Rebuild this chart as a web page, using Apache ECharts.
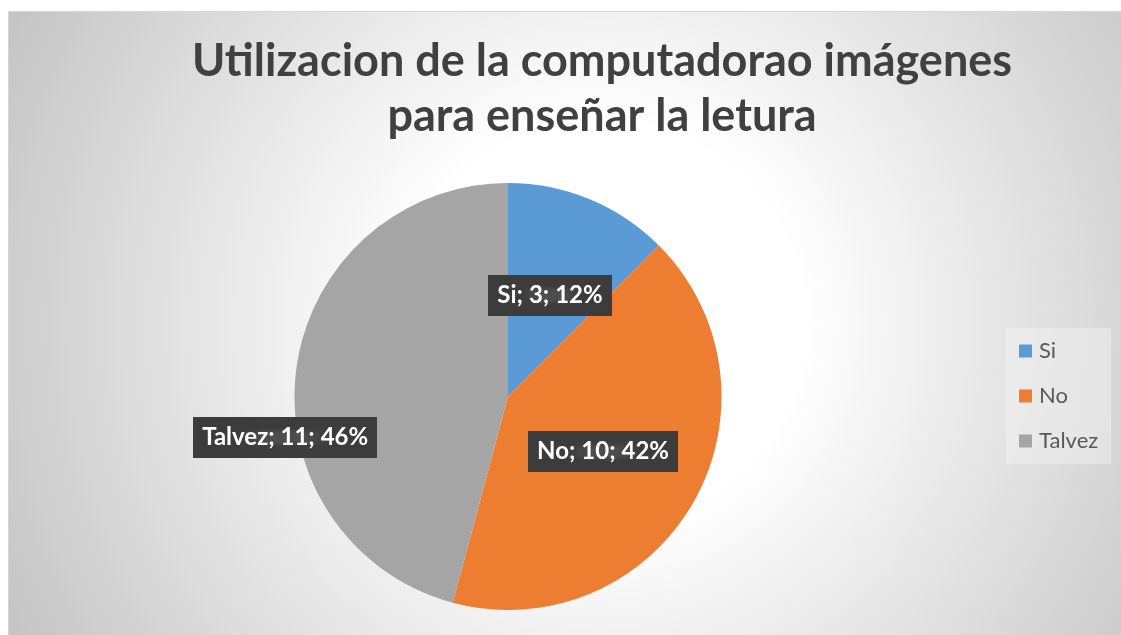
<!DOCTYPE html>
<html>
<head>
<meta charset="utf-8">
<script src="https://cdn.jsdelivr.net/npm/echarts@6/dist/echarts.min.js"></script>
<style>
  html, body { margin: 0; padding: 0; width: 1121px; height: 635px; overflow: hidden; background: #ffffff; }
  #wrap { position: absolute; left: 8px; top: 11px; width: 1186px; height: 624px;
    border-left: 1px solid #d4d4d4; border-top: 1px solid #d4d4d4; box-sizing: border-box;
    background: radial-gradient(circle at 50% 50%, #ffffff 0px, #ffffff 200px, #c4c4c4 670px); }
  #chart { width: 1186px; height: 624px; }
</style>
</head>
<body>
<div id="wrap"><div id="chart"></div></div>
<script>
const titleLines = ['Utilizacion de la computadorao imágenes', 'para enseñar la letura'];
const categories = ['Si', 'No', 'Talvez'];
const values = [3, 10, 11];
const colors = ['#5b9bd5', '#ed7d31', '#a5a5a5'];

// dotted dark pattern for data labels
const pat = document.createElement('canvas');
pat.width = 6; pat.height = 6;
const pc = pat.getContext('2d');
pc.fillStyle = '#3c3c3c'; pc.fillRect(0, 0, 6, 6);
pc.fillStyle = '#4e4e4e'; pc.fillRect(2, 2, 2, 2);

const chart = echarts.init(document.getElementById('chart'), null, { renderer: 'canvas' });

chart.setOption({
  animation: false,
  title: {
    text: titleLines.join('\n'),
    left: 'center',
    top: 17,
    textStyle: {
      fontFamily: 'Lato',
      fontWeight: 'bold',
      fontSize: 45,
      lineHeight: 55,
      color: '#404040'
    }
  },
  legend: {
    orient: 'vertical',
    left: 997,
    top: 316,
    padding: [12, 13, 12, 13],
    backgroundColor: 'rgba(245,245,245,0.45)',
    itemWidth: 13,
    itemHeight: 13,
    itemGap: 23,
    icon: 'rect',
    data: categories,
    textStyle: { fontFamily: 'Lato', fontSize: 22, lineHeight: 20, color: '#595959', padding: [0, 0, 0, 2] }
  },
  series: [{
    type: 'pie',
    center: [499, 384.5],
    radius: [0, 213.5],
    startAngle: 90,
    clockwise: true,
    percentPrecision: 0,
    color: colors,
    itemStyle: { borderWidth: 0 },
    emphasis: { disabled: true },
    label: {
      show: true,
      position: 'inner',
      formatter: p => p.name + '; ' + p.value + '; ' + p.percent + '%',
      fontFamily: 'Lato',
      fontWeight: 'bold',
      fontSize: 24,
      lineHeight: 25,
      color: '#ffffff',
      backgroundColor: { image: pat, repeat: 'repeat' },
      padding: [8, 9, 8, 9],
      shadowColor: 'rgba(0,0,0,0.55)',
      shadowBlur: 7,
      shadowOffsetX: 3,
      shadowOffsetY: 4
    },
    labelLine: { show: false },
    labelLayout: function (p) {
      if (p.dataIndex === 2) return { dx: -114, dy: 55 };
      return {};
    },
    data: categories.map((c, i) => ({ name: c, value: values[i] }))
  }]
});
</script>
</body>
</html>
